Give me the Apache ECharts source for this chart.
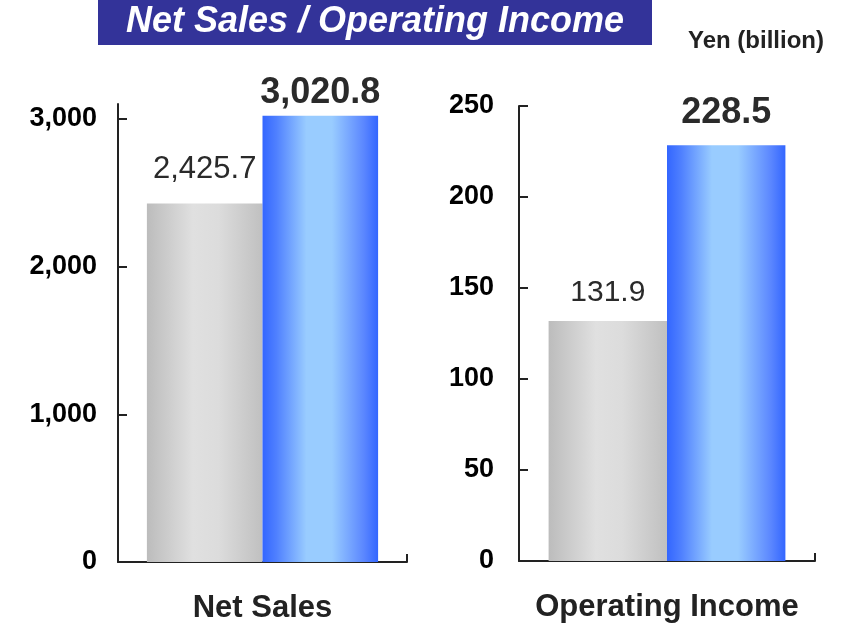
<!DOCTYPE html>
<html>
<head>
<meta charset="utf-8">
<script src="https://cdn.jsdelivr.net/npm/echarts@6/dist/echarts.min.js"></script>
<style>
html,body{margin:0;padding:0;background:#fff;}
#chart{width:848px;height:625px;}
</style>
</head>
<body>
<div id="chart"></div>
<script>
// ---- data ----
const titleText = 'Net Sales / Operating Income';
const unitText = 'Yen (billion)';
const categoriesLeft = ['Net Sales'];
const categoriesRight = ['Operating Income'];
const prevNetSales = [2425.7];
const currNetSales = [3020.8];
const prevOpIncome = [131.9];
const currOpIncome = [228.5];
const netSalesTicks = [0, 1000, 2000, 3000];
const opIncomeTicks = [0, 50, 100, 150, 200, 250];

const FONT = '"Liberation Sans", Arial, Helvetica, sans-serif';
const fmt1 = v => v.toLocaleString('en-US', {minimumFractionDigits: 1, maximumFractionDigits: 1});
const fmt0 = v => Number(v).toLocaleString('en-US');

function hGrad(stops) {
  return new echarts.graphic.LinearGradient(0, 0, 1, 0, stops.map(s => ({offset: s[0], color: s[1]})));
}
const grayGrad = () => hGrad([[0, '#bcbcbc'], [0.4, '#e0e0e0'], [0.62, '#dcdcdc'], [1, '#c0c0c0']]);
const blueGrad = () => hGrad([[0, '#3366ff'], [0.12, '#4f80ff'], [0.38, '#99ccff'], [0.6, '#99ccff'], [0.88, '#5a86ff'], [1, '#3366ff']]);

const axisLineStyle = {color: '#222', width: 2};

function yAxisCfg(gridIndex, max, interval, ticks, margin) {
  return {
    type: 'value', gridIndex, min: 0, max, interval,
    splitLine: {show: false},
    axisLine: {show: true, lineStyle: axisLineStyle},
    axisTick: {show: true, inside: true, length: 9, lineStyle: axisLineStyle, customValues: ticks},
    axisLabel: {
      customValues: ticks, margin,
      formatter: fmt0,
      color: '#000', fontFamily: FONT, fontWeight: 'bold', fontSize: 27
    }
  };
}
function xAxisCfg(gridIndex, data) {
  return {
    type: 'category', gridIndex, data,
    axisLine: {show: true, lineStyle: axisLineStyle},
    axisTick: {show: true, inside: true, length: 8, lineStyle: axisLineStyle},
    axisLabel: {margin: 31, color: '#222', fontFamily: FONT, fontWeight: 'bold', fontSize: 31}
  };
}
function barSeries(idx, data, grad, bold, fontSize, distance) {
  return {
    type: 'bar', xAxisIndex: idx, yAxisIndex: idx,
    data, barGap: '0%', barCategoryGap: '20%',
    itemStyle: {color: grad()},
    label: {
      show: true, position: 'top', distance,
      formatter: p => fmt1(p.value),
      color: '#2a2a2a', fontFamily: FONT,
      fontWeight: bold ? 'bold' : 'normal', fontSize
    },
    emphasis: {disabled: true}
  };
}

const chart = echarts.init(document.getElementById('chart'));
chart.setOption({
  animation: false,
  backgroundColor: '#fff',
  graphic: [
    {type: 'rect', left: 98, top: 0, shape: {width: 554, height: 45}, style: {fill: '#333399'}, z: 10},
    {type: 'text', x: 375, y: 22, z: 11,
      style: {text: titleText, fill: '#fff', font: 'italic bold 36px ' + FONT, align: 'center', verticalAlign: 'middle'}},
    {type: 'text', x: 756, y: 41, z: 11,
      style: {text: unitText, fill: '#222', font: 'bold 24px ' + FONT, align: 'center', verticalAlign: 'middle'}}
  ],
  grid: [
    {left: 118, right: 441, top: 104, bottom: 63},
    {left: 519, right: 33, top: 106, bottom: 64}
  ],
  xAxis: [xAxisCfg(0, categoriesLeft), xAxisCfg(1, categoriesRight)],
  yAxis: [
    yAxisCfg(0, 3100, 1000, netSalesTicks, 21),
    yAxisCfg(1, 250, 50, opIncomeTicks, 25)
  ],
  series: [
    barSeries(0, prevNetSales, grayGrad, false, 31, 19),
    barSeries(0, currNetSales, blueGrad, true, 36, 5),
    barSeries(1, prevOpIncome, grayGrad, false, 30, 13),
    barSeries(1, currOpIncome, blueGrad, true, 36, 14)
  ]
});
</script>
</body>
</html>
